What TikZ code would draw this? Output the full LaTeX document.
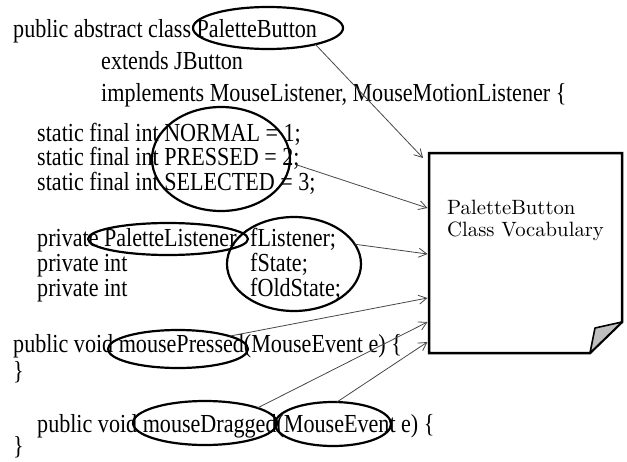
\documentclass[tikz,border=0pt]{standalone}
\usepackage{fontspec}
\newfontfamily\codefont[FakeStretch=0.85]{Liberation Serif}
\newfontfamily\boxfont{lmroman10-regular.otf}
\usetikzlibrary{shapes.geometric,arrows.meta}
\begin{document}
\begin{tikzpicture}[x=1pt,y=-1pt,
  code/.style={anchor=base west, inner sep=0pt, font=\codefont\fontsize{26}{30}\selectfont},
  ring/.style={ellipse, draw=black, line width=2.2pt, inner sep=0pt, outer sep=0pt},
  link/.style={draw=black!72, line width=0.8pt, -{Straight Barb[length=8pt,width=9pt]}},
  docbox/.style={minimum width=193pt, minimum height=200pt, inner sep=0pt, outer sep=0pt, anchor=north west},
]
\useasboundingbox (0,0) rectangle (627,461);

% code text
\node[code] (l1) at (13,37) {public abstract class PaletteButton};
\node[code] (l2) at (101,69) {extends JButton};
\node[code] (l3) at (101,101) {implements MouseListener, MouseMotionListener \{};
\node[code] (l4) at (37,141) {static final int NORMAL = 1;};
\node[code] (l5) at (37,165) {static final int PRESSED = 2;};
\node[code] (l6) at (37,190) {static final int SELECTED = 3;};
\node[code] (l7a) at (37,246) {private PaletteListener};
\node[code] (l7b) at (250,246) {fListener;};
\node[code] (l8a) at (37,271) {private int};
\node[code] (l8b) at (250,271) {fState;};
\node[code] (l9a) at (37,296) {private int};
\node[code] (l9b) at (250,296) {fOldState;};
\node[code] (l10) at (13,352) {public void mousePressed(MouseEvent e) \{};
\node[code] (l11) at (13,379) {\}};
\node[code] (l12) at (37,432) {public void mouseDragged(MouseEvent e) \{};
\node[code] (l13) at (13,454) {\}};

% ellipses
\node[ring, minimum width=150pt, minimum height=42pt] (e1) at (268,28) {};
\node[ring, minimum width=138pt, minimum height=104pt] (e2) at (221,159) {};
\node[ring, minimum width=160pt, minimum height=32pt] (e3) at (168,239) {};
\node[ring, minimum width=134pt, minimum height=94pt] (e4) at (294,264) {};
\node[ring, minimum width=140pt, minimum height=38pt] (e5) at (178,349) {};
\node[ring, minimum width=144pt, minimum height=44pt] (e6) at (205,423) {};
\node[ring, minimum width=116pt, minimum height=44pt] (e7) at (333,424) {};

% document
\node[docbox] (doc) at (429,153) {};
\draw[line width=2.5pt, line join=miter]
  (doc.north west) -- (doc.north east) -- ([yshift=31pt]doc.south east)
  -- ([xshift=-32pt]doc.south east) -- (doc.south west) -- cycle;
\draw[fill=black!25, line width=1.6pt, line join=round]
  ([xshift=-32pt]doc.south east) -- ++(5pt,25pt) -- ([yshift=31pt]doc.south east) -- cycle;
\node[anchor=base west, align=left, inner sep=0pt, font=\boxfont\fontsize{20.7}{22}\selectfont] (lbl) at (447,236)
  {PaletteButton\\Class Vocabulary};

% connectors
\draw[link] (e1.-19) -- ([xshift=-6pt,yshift=-5pt]doc.north west);
\draw[link, shorten <=7pt] (e2.-3) -- ([xshift=-1.5pt,yshift=-55pt]doc.north west);
\draw[link] (e4.18) -- ([xshift=-1.5pt,yshift=-101pt]doc.north west);
\draw[link] (e5.14) -- ([xshift=-1.5pt,yshift=-145pt]doc.north west);
\draw[link] (e6.16) -- ([xshift=-1.5pt,yshift=-169pt]doc.north west);
\draw[link] (e7.80) -- ([xshift=-1.5pt,yshift=-189pt]doc.north west);
\end{tikzpicture}
\end{document}
